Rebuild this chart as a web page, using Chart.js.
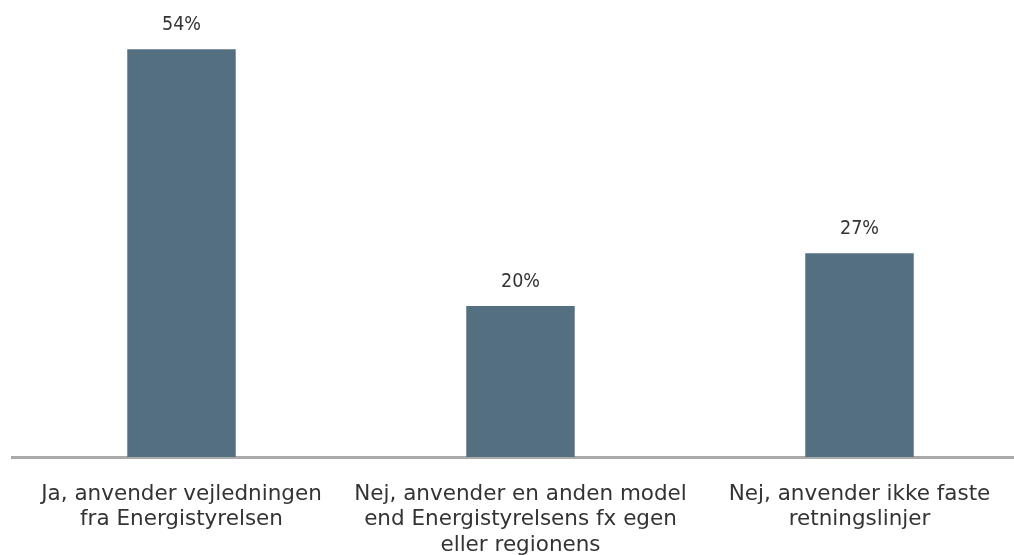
<!DOCTYPE html>
<html>
<head>
<meta charset="utf-8">
<script src="https://cdn.jsdelivr.net/npm/chart.js@4"></script>
<style>
  html, body { margin: 0; padding: 0; background: #fff; overflow: hidden; }
  #wrap { width: 1029px; height: 555px; position: relative; }
</style>
</head>
<body>
<div id="wrap"><canvas id="chart"></canvas></div>
<script>
// categories (multi-line labels as they wrap in the picture)
const categories = [
  ['Ja, anvender vejledningen', 'fra Energistyrelsen'],
  ['Nej, anvender en anden model', 'end Energistyrelsens fx egen', 'eller regionens'],
  ['Nej, anvender ikke faste', 'retningslinjer'],
];
const values = [54, 20, 27];

const BAR_COLOR = '#546f80';
const TEXT_COLOR = '#333333';
const FONT = "'DejaVu Sans', Verdana, sans-serif";
const LABEL_FONT = "'DejaVu Sans Condensed', sans-serif";

// draws the "54%" style labels above each bar
const valueLabels = {
  id: 'valueLabels',
  afterDatasetsDraw: function (chart) {
    var ctx = chart.ctx;
    var meta = chart.getDatasetMeta(0);
    ctx.save();
    ctx.font = '19.5px ' + LABEL_FONT;
    ctx.fillStyle = TEXT_COLOR;
    ctx.textAlign = 'center';
    ctx.textBaseline = 'middle';
    meta.data.forEach(function (bar, i) {
      ctx.fillText(values[i] + '%', bar.x, bar.y - 24);
    });
    ctx.restore();
  },
};

new Chart(document.getElementById('chart').getContext('2d'), {
  type: 'bar',
  data: {
    labels: categories,
    datasets: [{
      data: values,
      backgroundColor: BAR_COLOR,
      borderWidth: 0,
      barPercentage: 0.8,
      categoryPercentage: 0.4,
    }],
  },
  options: {
    responsive: true,
    maintainAspectRatio: false,
    animation: false,
    layout: { padding: { left: 12, right: 0, top: 4, bottom: -19.5 } },
    plugins: {
      legend: { display: false },
      tooltip: { enabled: false },
    },
    scales: {
      x: {
        grid: { display: false },
        border: { display: true, color: '#aaaaaa', width: 3 },
        ticks: {
          color: TEXT_COLOR,
          font: { family: FONT, size: 21.5, lineHeight: 1.2 },
          padding: 16,
          maxRotation: 0,
          autoSkip: false,
        },
      },
      y: {
        display: false,
        min: 0,
        max: 60,
      },
    },
  },
  plugins: [valueLabels],
});
</script>
</body>
</html>
